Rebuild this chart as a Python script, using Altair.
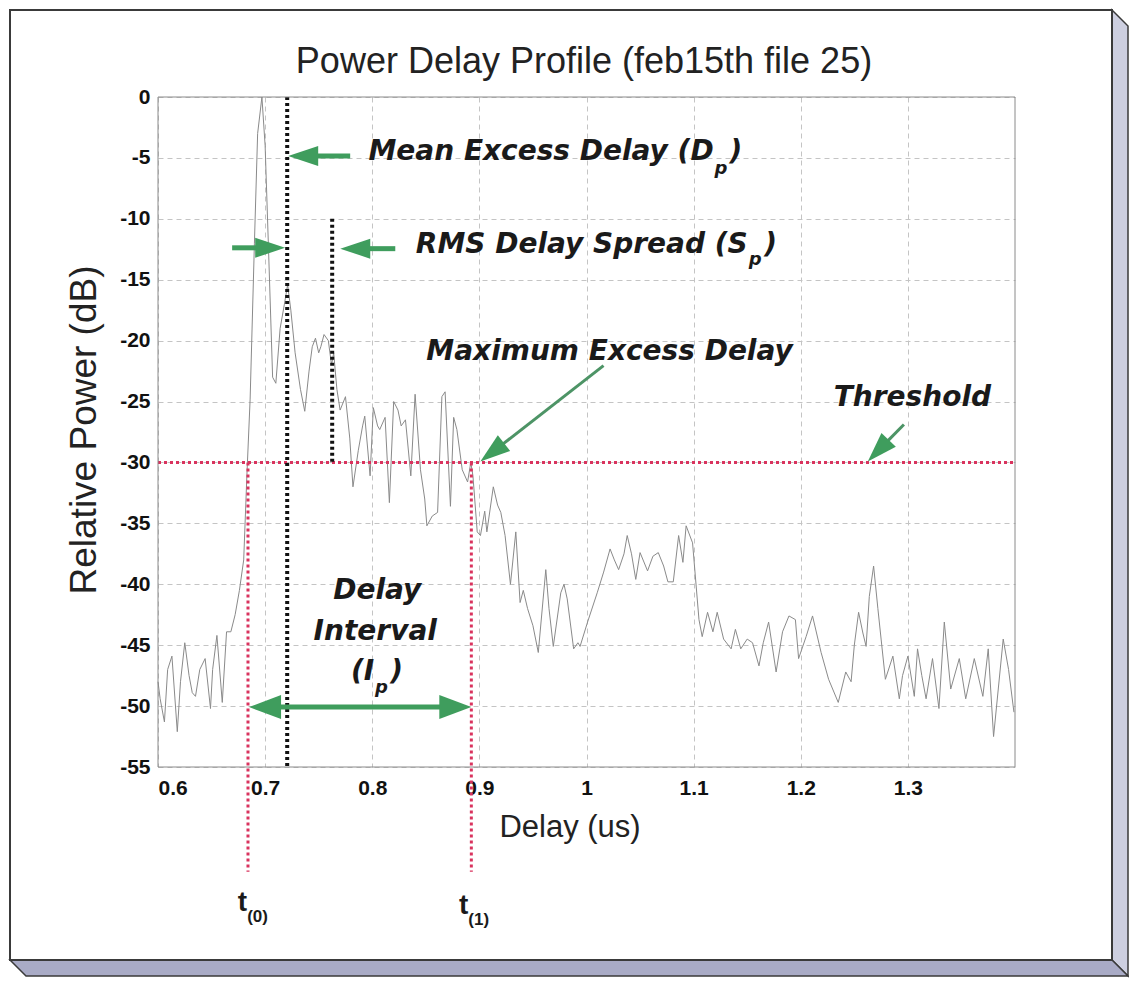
import altair as alt
import pandas as pd

# ---------------- data ----------------
delay_us = [0.600, 0.602, 0.606, 0.609, 0.613, 0.618, 0.621, 0.625, 0.629, 0.632,
            0.635, 0.639, 0.644, 0.649, 0.651, 0.655, 0.660, 0.664, 0.668, 0.672,
            0.676, 0.680, 0.683, 0.686, 0.690, 0.693, 0.697, 0.700, 0.703, 0.707,
            0.710, 0.714, 0.718, 0.721, 0.724, 0.728, 0.733, 0.737, 0.741, 0.744,
            0.747, 0.750, 0.752, 0.755, 0.759, 0.762, 0.764, 0.767, 0.770, 0.775,
            0.779, 0.782, 0.787, 0.791, 0.793, 0.798, 0.801, 0.805, 0.807, 0.812,
            0.816, 0.820, 0.824, 0.827, 0.831, 0.836, 0.840, 0.845, 0.849, 0.851,
            0.856, 0.861, 0.865, 0.868, 0.873, 0.876, 0.879, 0.884, 0.889, 0.892,
            0.894, 0.898, 0.901, 0.905, 0.907, 0.913, 0.917, 0.920, 0.924, 0.929,
            0.934, 0.938, 0.941, 0.945, 0.950, 0.955, 0.962, 0.965, 0.969, 0.976,
            0.979, 0.982, 0.988, 0.992, 0.994, 1.001, 1.010, 1.016, 1.022, 1.026,
            1.030, 1.035, 1.038, 1.042, 1.046, 1.050, 1.057, 1.062, 1.067, 1.072,
            1.076, 1.081, 1.086, 1.090, 1.093, 1.099, 1.105, 1.108, 1.113, 1.118,
            1.122, 1.128, 1.135, 1.139, 1.144, 1.150, 1.155, 1.161, 1.165, 1.170,
            1.177, 1.183, 1.189, 1.195, 1.198, 1.205, 1.211, 1.219, 1.226, 1.235,
            1.242, 1.247, 1.250, 1.254, 1.258, 1.261, 1.264, 1.268, 1.272, 1.275,
            1.279, 1.286, 1.292, 1.295, 1.300, 1.306, 1.309, 1.313, 1.317, 1.323,
            1.329, 1.334, 1.340, 1.348, 1.354, 1.362, 1.370, 1.375, 1.380, 1.389,
            1.394, 1.399]
power_db = [-48.0, -49.4, -51.3, -47.0, -45.9, -52.1, -48.0, -44.8, -47.5, -48.9,
            -49.2, -47.0, -46.1, -50.2, -47.0, -44.2, -49.7, -43.9, -43.9, -42.5,
            -40.5, -38.0, -31.0, -24.8, -12.0, -3.0, 0.0, -4.0, -12.0, -23.0,
            -23.5, -19.0, -17.0, -15.4, -17.5, -21.0, -24.0, -25.8, -22.5, -20.5,
            -19.8, -21.0, -20.5, -19.5, -20.0, -22.0, -21.0, -24.0, -25.7, -24.6,
            -28.0, -32.0, -29.0, -27.0, -26.2, -31.1, -25.5, -27.0, -27.3, -26.3,
            -33.3, -25.0, -25.7, -27.0, -26.5, -31.1, -24.4, -30.6, -33.0, -35.2,
            -34.4, -34.1, -24.6, -24.2, -33.6, -26.3, -27.3, -30.6, -31.6, -30.0,
            -31.1, -35.7, -36.0, -34.0, -35.7, -32.0, -33.5, -34.1, -36.0, -40.0,
            -35.7, -41.5, -40.5, -42.0, -43.4, -45.6, -38.8, -42.0, -45.1, -40.7,
            -40.0, -41.2, -45.3, -44.8, -45.1, -43.1, -40.7, -39.0, -37.1, -38.0,
            -38.8, -37.5, -36.0, -37.5, -39.6, -37.4, -38.9, -37.7, -37.4, -38.5,
            -39.8, -39.8, -36.0, -38.2, -35.2, -36.6, -42.9, -44.3, -42.3, -43.9,
            -42.3, -44.5, -45.3, -43.7, -45.3, -44.5, -44.8, -46.7, -44.8, -43.1,
            -47.2, -43.9, -42.6, -42.9, -46.1, -44.3, -42.6, -45.6, -47.8, -49.7,
            -47.2, -48.0, -45.0, -42.3, -44.0, -45.1, -41.0, -38.5, -42.0, -44.5,
            -47.8, -45.9, -49.4, -47.5, -45.9, -49.2, -45.3, -47.5, -49.4, -46.1,
            -50.2, -43.1, -48.6, -46.1, -49.4, -46.1, -49.2, -45.3, -52.5, -44.5,
            -47.0, -50.5]

x_tick_values = [0.6, 0.7, 0.8, 0.9, 1.0, 1.1, 1.2, 1.3]
y_tick_values = [-55, -50, -45, -40, -35, -30, -25, -20, -15, -10, -5, 0]

threshold_db = -30
t0_us, t1_us = 0.684, 0.8925
mean_excess_us = 0.7206
rms_spread_us = 0.7626
t_line_bottom_db = -63.6

# ---------------- styling ----------------
W, H = 857, 670
GREEN = "#3f9d5d"
RED = "#d9335e"
ANNOT_FONT = "DejaVu Sans"

xs = alt.Scale(domain=[0.6, 1.4], nice=False, zero=False)
ys = alt.Scale(domain=[-55, 0], nice=False, zero=False)
x_axis = alt.Axis(values=x_tick_values, labelExpr="'' + datum.value", title=None,
                  grid=True, labelPadding=10)
y_axis = alt.Axis(values=y_tick_values, labelExpr="'' + datum.value", title=None,
                  grid=True, labelPadding=8)


def X(f="x"):
    return alt.X(f"{f}:Q", scale=xs, axis=x_axis)


def Y(f="y"):
    return alt.Y(f"{f}:Q", scale=ys, axis=y_axis)


one = pd.DataFrame({"k": [0]})

# ---------------- frame (decoration) ----------------
bevel_right = alt.Chart(one).mark_point(
    shape="M954,-87L970,-71L970,879L954,863Z", size=4, filled=True,
    fill="#cdcfe0", stroke="#3a3a3a", strokeWidth=1.5, opacity=1
).encode(x=alt.value(0), y=alt.value(0))
bevel_bottom = alt.Chart(one).mark_point(
    shape="M-148,863L-132,879L970,879L954,863Z", size=4, filled=True,
    fill="#a9abc6", stroke="#3a3a3a", strokeWidth=1.5, opacity=1
).encode(x=alt.value(0), y=alt.value(0))
front = alt.Chart(one).mark_rect(filled=False, stroke="#3a3a3a", strokeWidth=2).encode(
    x=alt.value(-148), x2=alt.value(954), y=alt.value(-87), y2=alt.value(863))
plotbox = alt.Chart(one).mark_rect(filled=False, stroke="#8a8a8a", strokeWidth=1).encode(
    x=alt.value(0), x2=alt.value(W), y=alt.value(0), y2=alt.value(H))

# ---------------- titles ----------------
title = alt.Chart(one).mark_text(
    text="Power Delay Profile (feb15th file 25)", font="Liberation Sans",
    fontSize=36, color="#222", baseline="middle", align="center"
).encode(x=alt.value(426), y=alt.value(-35))
xtitle = alt.Chart(one).mark_text(
    text="Delay (us)", font="Liberation Sans", fontSize=31, color="#222",
    baseline="middle", align="center").encode(x=alt.value(412), y=alt.value(731))
ytitle = alt.Chart(one).mark_text(
    text="Relative Power (dB)", font="Liberation Sans", fontSize=37, color="#222",
    baseline="middle", align="center", angle=270).encode(x=alt.value(-73), y=alt.value(333))

# ---------------- trace ----------------
trace = alt.Chart(pd.DataFrame({"x": delay_us, "y": power_db})).mark_line(
    color="#8a8a8a", strokeWidth=1).encode(x=X(), y=Y())

# ---------------- reference lines ----------------
thr = alt.Chart(pd.DataFrame({"x": [0.6], "x2": [1.4], "y": [threshold_db]})).mark_rule(
    color=RED, strokeWidth=3, strokeDash=[3, 3]).encode(x=X(), x2="x2:Q", y=Y())
tlines = alt.Chart(pd.DataFrame({"x": [t0_us, t1_us], "y": [threshold_db] * 2,
                                 "y2": [t_line_bottom_db] * 2})).mark_rule(
    color=RED, strokeWidth=3, strokeDash=[3, 3]).encode(x=X(), y=Y(), y2="y2:Q")
blines = alt.Chart(pd.DataFrame({"x": [mean_excess_us, rms_spread_us], "y": [0, -10],
                                 "y2": [-55, threshold_db]})).mark_rule(
    color="#111", strokeWidth=4, strokeDash=[3, 3]).encode(x=X(), y=Y(), y2="y2:Q")

# ---------------- arrows ----------------
thick_shafts = alt.Chart(pd.DataFrame({
    "x": [0.7458, 0.6692, 0.7963, 0.712],
    "x2": [0.7794, 0.6953, 0.8215, 0.868],
    "y": [-4.84, -12.38, -12.45, -50.08],
    "y2": [-4.84, -12.38, -12.45, -50.08]})).mark_rule(
    color=GREEN, strokeWidth=5).encode(x=X(), x2="x2:Q", y=Y(), y2="y2:Q")
thin_shafts = alt.Chart(pd.DataFrame({
    "x": [0.9215, 1.2808], "x2": [1.0159, 1.2963],
    "y": [-28.52, -28.27], "y2": [-22.05, -26.89]})).mark_rule(
    color="#4d9466", strokeWidth=3).encode(x=X(), x2="x2:Q", y=Y(), y2="y2:Q")
heads = alt.Chart(pd.DataFrame({
    "x": [0.7215, 0.7187, 0.7701, 0.9009, 1.2626],
    "y": [-4.84, -12.38, -12.45, -29.92, -29.92],
    "angle": [0, 180, 0, 322, 314]})).mark_point(
    shape="M0,0L30,-10L30,10Z", size=4, filled=True, color=GREEN, opacity=1).encode(
    x=X(), y=Y(), angle=alt.Angle("angle:Q", scale=None))
heads_big = alt.Chart(pd.DataFrame({
    "x": [0.6850, 0.8925], "y": [-50.08, -50.08], "angle": [0, 180]})).mark_point(
    shape="M0,0L32,-12L32,12Z", size=4, filled=True, color=GREEN, opacity=1).encode(
    x=X(), y=Y(), angle=alt.Angle("angle:Q", scale=None))

# ---------------- annotation text ----------------
tstyle = dict(font=ANNOT_FONT, fontWeight="bold", fontStyle="italic", color="#1a1a1a",
              baseline="middle")
txt_center = alt.Chart(pd.DataFrame({
    "x": [1.0215, 1.3042, 0.8047, 0.8028], "y": [-20.9, -24.67, -40.57, -43.93],
    "text": ["Maximum Excess Delay", "Threshold", "Delay", "Interval"]})).mark_text(
    fontSize=28, align="center", **tstyle).encode(x=X(), y=Y(), text="text:N")
txt_right = alt.Chart(pd.DataFrame({
    "x": [1.1187, 1.1505, 0.8019], "y": [-4.55, -12.13, -47.2],
    "text": ["Mean Excess Delay (D", "RMS Delay Spread (S", "(I"]})).mark_text(
    fontSize=28, align="right", **tstyle).encode(x=X(), y=Y(), text="text:N")
txt_close = alt.Chart(pd.DataFrame({
    "x": [1.1335, 1.1660, 0.8168], "y": [-4.55, -12.13, -47.2],
    "text": [")", ")", ")"]})).mark_text(
    fontSize=28, align="left", **tstyle).encode(x=X(), y=Y(), text="text:N")
txt_sub = alt.Chart(pd.DataFrame({
    "x": [1.1195, 1.1514, 0.8025], "y": [-5.9, -13.4, -48.5],
    "text": ["p", "p", "p"]})).mark_text(
    fontSize=18, align="left", **tstyle).encode(x=X(), y=Y(), text="text:N")
t_main = alt.Chart(pd.DataFrame({
    "x": [0.6832, 0.8897], "y": [-66.2, -66.4], "text": ["t", "t"]})).mark_text(
    font="Liberation Sans", fontWeight="bold", fontSize=28, color="#1a1a1a",
    align="right", baseline="middle").encode(x=X(), y=Y(), text="text:N")
t_sub = alt.Chart(pd.DataFrame({
    "x": [0.6832, 0.8897], "y": [-67.3, -67.6], "text": ["(0)", "(1)"]})).mark_text(
    font="Liberation Sans", fontWeight="bold", fontSize=17, color="#1a1a1a",
    align="left", baseline="middle").encode(x=X(), y=Y(), text="text:N")

chart = alt.layer(
    bevel_right, bevel_bottom, front, trace, thr, tlines, blines,
    thick_shafts, thin_shafts, heads, heads_big,
    txt_center, txt_right, txt_close, txt_sub, t_main, t_sub,
    plotbox, title, xtitle, ytitle
).properties(
    width=W, height=H,
    padding={"left": 150, "top": 89, "right": 114, "bottom": 211},
    autosize=alt.AutoSizeParams(type="none"),
).configure(background="white").configure_view(strokeWidth=0).configure_axis(
    labelFont="Liberation Sans", labelFontWeight="bold", labelFontSize=21,
    labelColor="#111", gridColor="#c4c4c4", gridDash=[5, 4], gridWidth=1,
    domain=False, ticks=False, tickSize=0
)

chart.save("out.html", embed_options={"renderer": "svg", "actions": False})
